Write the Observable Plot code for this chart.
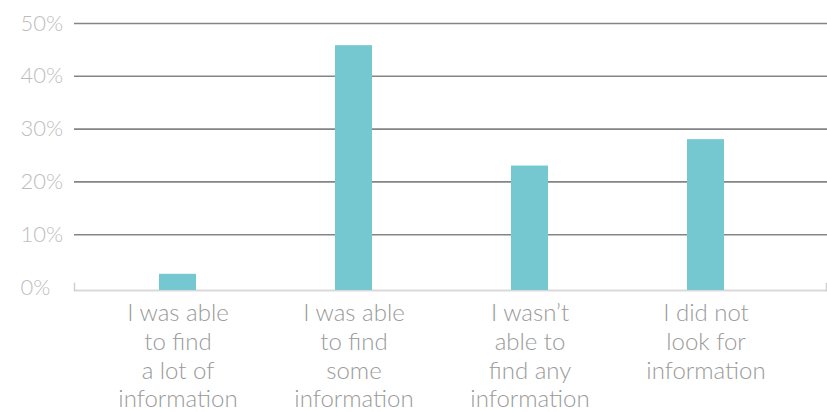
<!DOCTYPE html>
<html>
<head>
<meta charset="utf-8">
<script src="https://cdn.jsdelivr.net/npm/d3@7"></script>
<script src="https://cdn.jsdelivr.net/npm/@observablehq/plot@0.6"></script>
<style>
  html, body { margin: 0; padding: 0; background: #fff; }
  #chart svg { display: block; }
</style>
</head>
<body>
<div id="chart"></div>
<script>
const categories = [
  "I was able\nto find\na lot of\ninformation",
  "I was able\nto find\nsome\ninformation",
  "I wasn’t\nable to\nfind any\ninformation",
  "I did not\nlook for\ninformation"
];
const values = [2.5, 45.8, 23.0, 28.0];
const yTicks = [0, 10, 20, 30, 40, 50];
const gridTicks = [10, 20, 30, 40, 50];

const data = categories.map((c, i) => ({category: c, value: values[i]}));

const chart = Plot.plot({
  width: 827,
  height: 412,
  marginTop: 23,
  marginBottom: 125,
  marginLeft: 74,
  marginRight: 0,
  style: {fontFamily: "Lato, 'Noto Sans', sans-serif", background: "#fff"},
  x: {domain: categories, paddingInner: 0.79, paddingOuter: 0.534, align: 0.453, label: null},
  y: {domain: [0, 50], label: null},
  marks: [
    Plot.gridY(gridTicks, {stroke: "#858585", strokeOpacity: 1, strokeWidth: 1.6}),
    Plot.ruleY([0], {stroke: "#d9d9d9", strokeWidth: 2, dy: 3}),
    Plot.frame({anchor: "left", stroke: "#cfcfcf", strokeWidth: 1.5, insetTop: 260, insetBottom: -3}),
    Plot.frame({anchor: "right", stroke: "#cfcfcf", strokeWidth: 1.5, insetTop: 260, insetBottom: -3, insetRight: 1}),
    Plot.barY(data, {x: "category", y: "value", fill: "#75c8cf", insetBottom: -3}),
    Plot.axisY(yTicks, {
      tickSize: 0, tickPadding: 0, textAnchor: "start", dx: -54,
      tickFormat: d => d + "%", fontSize: 22, fontWeight: 300, fill: "#bdbdbd", label: null
    }),
    Plot.axisX({
      tickSize: 0, tickPadding: 13, fontSize: 24, fontWeight: 300, lineHeight: 1.2,
      fill: "#9a9a9a", label: null
    })
  ]
});
document.getElementById("chart").appendChild(chart);
</script>
</body>
</html>
